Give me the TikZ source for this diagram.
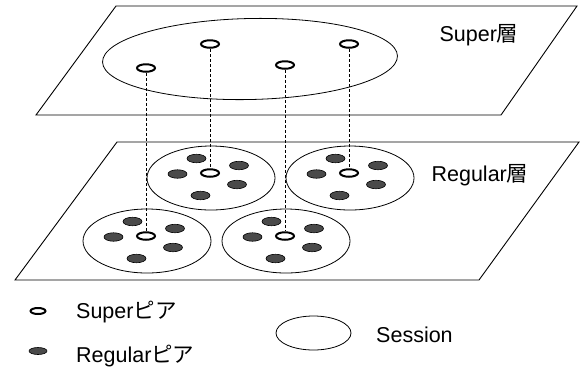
\documentclass[tikz,border=0pt]{standalone}
\usepackage{fontspec}
\setmainfont{Liberation Sans}
\newfontfamily\jp{Noto Sans CJK JP}
\usetikzlibrary{shapes.geometric}
\definecolor{peergray}{HTML}{4A4A4A}
\begin{document}
\begin{tikzpicture}[x=1pt,y=-1pt,
  plane/.style={draw=black, line width=0.9pt, line join=miter},
  session/.style={ellipse, draw=black, line width=0.8pt, minimum width=128pt, minimum height=64pt, inner sep=0pt},
  speer/.style={ellipse, draw=black, line width=2pt, fill=white, minimum width=18pt, minimum height=7.5pt, inner sep=0pt},
  rpeer/.style={ellipse, draw=black, line width=0.6pt, fill=peergray, minimum width=19pt, minimum height=8.5pt, inner sep=0pt},
  link/.style={draw=black, line width=0.8pt, dash pattern=on 3pt off 2pt},
  lbl/.style={font=\fontsize{21.5}{24}\selectfont, inner sep=0pt}
]
\useasboundingbox (0,0) rectangle (580,368);
% planes
\coordinate (a1) at (116,6);
\coordinate (a2) at (577,6);
\coordinate (a3) at (501,115);
\coordinate (a4) at (36,115);
\draw[plane] (a1) -- (a2) -- (a3) -- (a4) -- cycle;
\coordinate (b1) at (117,142);
\coordinate (b2) at (579,142);
\coordinate (b3) at (479,280);
\coordinate (b4) at (15,280);
\draw[plane] (b1) -- (b2) -- (b3) -- (b4) -- cycle;
% super layer session
\node[ellipse, draw=black, line width=0.8pt, minimum width=295pt, minimum height=81pt, inner sep=0pt, rotate=1.2] (sess0) at (250,59) {};
% regular layer sessions
\foreach \n/\cx/\cy in {A/211/178, B/350/178, C/147/241, D/286/241} {
  \node[session] (s\n) at (\cx,\cy) {};
  \node[rpeer] (s\n r1) at (\cx-14.5,\cy-19.5) {};
  \node[rpeer] (s\n r2) at (\cx+28,\cy-12.5) {};
  \node[rpeer] (s\n r3) at (\cx-33.5,\cy-4) {};
  \node[rpeer] (s\n r4) at (\cx+26,\cy+6.5) {};
  \node[rpeer] (s\n r5) at (\cx-10.5,\cy+17.5) {};
  \node[speer] (p\n) at (\cx-1,\cy-5) {};
}
% super peers
\node[speer] (t1) at (146,68) {};
\node[speer] (t2) at (210,44) {};
\node[speer] (t3) at (285,65) {};
\node[speer] (t4) at (349,44) {};
% links
\draw[link] (t1.south) -- (pC.north);
\draw[link] (t2.south) -- (pA.north);
\draw[link] (t3.south) -- (pD.north);
\draw[link] (t4.south) -- (pB.north);
% layer labels
\node[lbl] (suplbl) at (479,35) {Super{\jp 層}};
\node[lbl] (reglbl) at (480,175) {Regular{\jp 層}};
% legend
\node[speer, minimum width=15pt, minimum height=6pt] (lsp) at (38,311) {};
\node[rpeer, minimum width=18pt, minimum height=7pt] (lrp) at (38,351) {};
\node[session, minimum width=75pt, minimum height=34pt] (lss) at (313.5,333) {};
\node[lbl, anchor=west] (lspt) at (76,312) {Super{\jp ピア}};
\node[lbl, anchor=west] (lrpt) at (76,356) {Regular{\jp ピア}};
\node[lbl, anchor=west] (lsst) at (376,335) {Session};
\end{tikzpicture}
\end{document}
